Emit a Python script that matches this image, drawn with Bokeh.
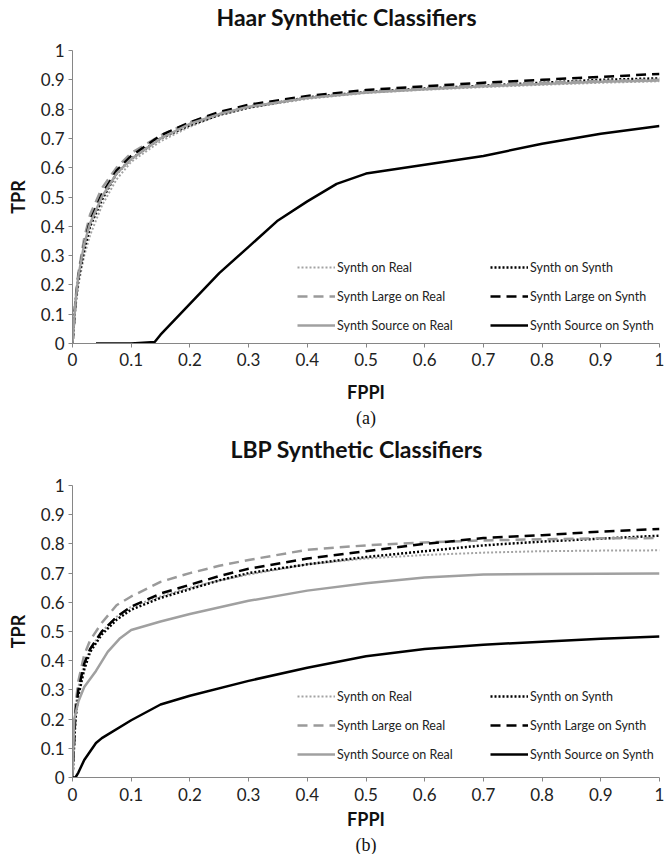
from bokeh.plotting import figure
from bokeh.layouts import column
from bokeh.models import Range1d, FixedTicker, Legend, LegendItem, Title
from bokeh.embed import file_html
from bokeh.resources import INLINE

# ---------------- data ----------------
tick_values = [0, 0.1, 0.2, 0.3, 0.4, 0.5, 0.6, 0.7, 0.8, 0.9, 1.0]
tick_labels = ["0", "0.1", "0.2", "0.3", "0.4", "0.5", "0.6", "0.7", "0.8", "0.9", "1"]

series_names = ["Synth on Real", "Synth on Synth", "Synth Large on Real",
                "Synth Large on Synth", "Synth Source on Real", "Synth Source on Synth"]

# Haar chart (a)
haar_fppi = [0, 0.005, 0.01, 0.02, 0.03, 0.05, 0.075, 0.1, 0.15, 0.2, 0.25, 0.3,
             0.4, 0.5, 0.6, 0.7, 0.8, 0.9, 1.0]
haar_synth_on_real = [0, 0.12, 0.2, 0.3, 0.37, 0.47, 0.56, 0.62, 0.69, 0.74, 0.78, 0.805,
                      0.835, 0.855, 0.866, 0.875, 0.883, 0.89, 0.895]
haar_synth_on_synth = [0, 0.14, 0.22, 0.32, 0.4, 0.49, 0.58, 0.63, 0.7, 0.745, 0.78, 0.805,
                       0.84, 0.858, 0.87, 0.88, 0.89, 0.9, 0.905]
haar_large_on_real = [0, 0.15, 0.24, 0.36, 0.44, 0.53, 0.6, 0.65, 0.71, 0.755, 0.785, 0.81,
                      0.84, 0.86, 0.872, 0.882, 0.89, 0.896, 0.9]
haar_large_on_synth = [0, 0.14, 0.23, 0.34, 0.42, 0.51, 0.59, 0.64, 0.71, 0.755, 0.79, 0.815,
                       0.845, 0.865, 0.878, 0.89, 0.9, 0.91, 0.92]
haar_source_on_real = [0, 0.14, 0.23, 0.34, 0.41, 0.5, 0.58, 0.63, 0.7, 0.75, 0.783, 0.808,
                       0.838, 0.857, 0.868, 0.878, 0.886, 0.893, 0.898]
haar_source_synth_fppi = [0.04, 0.1, 0.14, 0.15, 0.2, 0.25, 0.3, 0.35, 0.4, 0.45, 0.5,
                          0.6, 0.7, 0.8, 0.9, 1.0]
haar_source_on_synth = [0, 0, 0.005, 0.03, 0.135, 0.24, 0.33, 0.42, 0.485, 0.545, 0.58,
                        0.61, 0.64, 0.682, 0.716, 0.742]

# LBP chart (b)
lbp_fppi = [0, 0.005, 0.01, 0.02, 0.03, 0.05, 0.075, 0.1, 0.15, 0.2, 0.25, 0.3,
            0.4, 0.5, 0.6, 0.7, 0.8, 0.9, 1.0]
lbp_synth_on_real = [0, 0.24, 0.31, 0.39, 0.44, 0.5, 0.55, 0.585, 0.62, 0.65, 0.675, 0.695,
                     0.73, 0.75, 0.762, 0.77, 0.775, 0.777, 0.778]
lbp_synth_on_synth = [0, 0.2, 0.28, 0.37, 0.43, 0.49, 0.54, 0.575, 0.615, 0.645, 0.675, 0.7,
                      0.73, 0.755, 0.775, 0.795, 0.808, 0.818, 0.828]
lbp_large_on_real = [0, 0.25, 0.33, 0.42, 0.47, 0.53, 0.59, 0.62, 0.67, 0.7, 0.725, 0.745,
                     0.78, 0.795, 0.805, 0.812, 0.816, 0.819, 0.82]
lbp_large_on_synth = [0, 0.22, 0.3, 0.39, 0.44, 0.5, 0.55, 0.585, 0.63, 0.66, 0.69, 0.715,
                      0.75, 0.775, 0.8, 0.82, 0.83, 0.842, 0.851]
lbp_source_real_fppi = [0, 0.003, 0.01, 0.02, 0.04, 0.06, 0.08, 0.1, 0.15, 0.2, 0.3, 0.4,
                        0.5, 0.6, 0.7, 0.8, 0.9, 1.0]
lbp_source_on_real = [0, 0.2, 0.26, 0.31, 0.365, 0.43, 0.475, 0.505, 0.534, 0.56, 0.605, 0.64,
                      0.665, 0.685, 0.695, 0.697, 0.698, 0.699]
lbp_source_synth_fppi = [0, 0.005, 0.01, 0.02, 0.04, 0.05, 0.1, 0.15, 0.2, 0.3, 0.4, 0.5,
                         0.6, 0.7, 0.8, 0.9, 1.0]
lbp_source_on_synth = [0, 0, 0.017, 0.06, 0.118, 0.135, 0.196, 0.25, 0.28, 0.331, 0.376,
                       0.415, 0.44, 0.455, 0.465, 0.475, 0.483]

# ---------------- styles ----------------
GRAY = "#a3a3a3"
BLACK = "#000000"
styles = [
    dict(line_color=GRAY, line_width=2, line_dash="2 2"),
    dict(line_color=BLACK, line_width=2.5, line_dash="2 2"),
    dict(line_color="#9a9a9a", line_width=2.5, line_dash="10 6"),
    dict(line_color=BLACK, line_width=2.5, line_dash="10 6"),
    dict(line_color="#a0a0a0", line_width=2.5),
    dict(line_color=BLACK, line_width=2.5),
]
AXIS_COLOR = "#868686"
FONT = "Lato"


def make_chart(title, sub, curves, height, top, bottom, legend_y, title_offset_x,
               title_gap, tick_standoff, xlabel_standoff):
    p = figure(width=664, height=height, output_backend="svg", toolbar_location=None,
               x_range=Range1d(0, 1), y_range=Range1d(0, 1),
               min_border_left=72, min_border_right=5,
               min_border_top=top, min_border_bottom=bottom)
    p.title.text = title
    p.title.align = "left"
    p.title.offset = title_offset_x
    p.title.text_font = FONT
    p.title.text_font_style = "bold"
    p.title.text_font_size = "23px"
    p.title.text_color = "#111111"
    p.title.standoff = 0
    # empty spacer between the frame and the title
    p.add_layout(Title(text=" ", text_font_size="1px", standoff=title_gap), "above")
    p.outline_line_color = None
    p.grid.visible = False

    for ax in (p.xaxis[0], p.yaxis[0]):
        ax.ticker = FixedTicker(ticks=tick_values)
        ax.major_label_overrides = {v: s for v, s in zip(tick_values, tick_labels)}
        ax.minor_tick_line_color = None
        ax.axis_line_color = AXIS_COLOR
        ax.major_tick_line_color = AXIS_COLOR
        ax.major_tick_in = 0
        ax.major_tick_out = 4
        ax.major_label_text_font = FONT
        ax.major_label_text_font_size = "17px"
        ax.major_label_text_color = "#222222"
        ax.axis_label_text_font = FONT
        ax.axis_label_text_font_style = "bold"
        ax.axis_label_text_font_size = "18px"
        ax.axis_label_text_color = "#111111"
    p.xaxis.axis_label = "FPPI"
    p.xaxis.major_label_standoff = tick_standoff
    p.xaxis.axis_label_standoff = xlabel_standoff
    p.yaxis.axis_label = "TPR"
    p.yaxis.major_label_standoff = 4
    p.yaxis.axis_label_standoff = 9

    sub_title = Title(text=sub, align="center", text_font="Liberation Serif",
                      text_font_style="normal", text_font_size="18px", text_color="#111111",
                      standoff=0)
    p.add_layout(sub_title, "below")

    renderers = []
    for (xs, ys), st in zip(curves, styles):
        renderers.append(p.line(xs, ys, **st))

    common = dict(border_line_color=None, background_fill_alpha=0, padding=0, margin=0,
                  spacing=9, label_height=20, glyph_height=20, glyph_width=38,
                  label_standoff=2, label_text_font=FONT, label_text_font_size="12.5px",
                  label_text_color="#222222")
    left_items = [LegendItem(label=series_names[i], renderers=[renderers[i]]) for i in (0, 2, 4)]
    right_items = [LegendItem(label=series_names[i], renderers=[renderers[i]]) for i in (1, 3, 5)]
    p.add_layout(Legend(items=left_items, location=(225, legend_y), **common))
    p.add_layout(Legend(items=right_items, location=(418, legend_y), **common))
    return p


p1 = make_chart("Haar Synthetic Classifiers", "(a)",
                [(haar_fppi, haar_synth_on_real), (haar_fppi, haar_synth_on_synth),
                 (haar_fppi, haar_large_on_real), (haar_fppi, haar_large_on_synth),
                 (haar_fppi, haar_source_on_real),
                 (haar_source_synth_fppi, haar_source_on_synth)],
                height=432, top=48, bottom=89, legend_y=8, title_offset_x=144,
                title_gap=17, tick_standoff=5, xlabel_standoff=12)
p2 = make_chart("LBP Synthetic Classifiers", "(b)",
                [(lbp_fppi, lbp_synth_on_real), (lbp_fppi, lbp_synth_on_synth),
                 (lbp_fppi, lbp_large_on_real), (lbp_fppi, lbp_large_on_synth),
                 (lbp_source_real_fppi, lbp_source_on_real),
                 (lbp_source_synth_fppi, lbp_source_on_synth)],
                height=422, top=50, bottom=76, legend_y=13, title_offset_x=158,
                title_gap=20, tick_standoff=6, xlabel_standoff=4)

layout = column(p1, p2, spacing=0)
open("out.html", "w").write(file_html(layout, INLINE))
